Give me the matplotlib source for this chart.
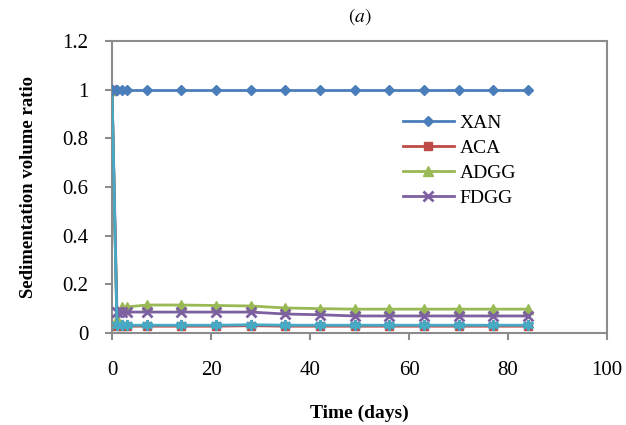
import matplotlib
matplotlib.use("Agg")
import matplotlib.pyplot as plt

days = [0, 1, 2, 3, 7, 14, 21, 28, 35, 42, 49, 56, 63, 70, 77, 84]
xan = [1.0] * 16
aca = [1.0, 0.028, 0.028, 0.028, 0.028, 0.028, 0.028, 0.03, 0.028, 0.028, 0.028, 0.028, 0.028, 0.028, 0.028, 0.028]
adgg = [1.0, 0.057, 0.105, 0.107, 0.115, 0.115, 0.113, 0.111, 0.103, 0.1, 0.098, 0.098, 0.098, 0.098, 0.098, 0.098]
fdgg = [1.0, 0.086, 0.086, 0.086, 0.086, 0.086, 0.086, 0.086, 0.078, 0.075, 0.07, 0.07, 0.07, 0.07, 0.07, 0.07]
extra = [1.0, 0.032, 0.032, 0.032, 0.032, 0.032, 0.032, 0.034, 0.032, 0.032, 0.032, 0.032, 0.032, 0.032, 0.032, 0.032]

plt.rcParams['font.family'] = ['Liberation Serif', 'DejaVu Serif']
plt.rcParams['mathtext.fontset'] = 'stix'

fig = plt.figure(figsize=(6.26, 4.25), dpi=100)
ax = fig.add_axes([112/626, 1-333/425, (607-112)/626, (333-41)/425])

ax.plot(days, xan, color='#4A7EBB', marker='D', ms=5.5, lw=2, label='XAN', zorder=5)
ax.plot(days, aca, color='#BE4B48', marker='s', ms=6, lw=2, label='ACA', zorder=3)
ax.plot(days, adgg, color='#98B954', marker='^', ms=7, lw=2, label='ADGG', zorder=3)
ax.plot(days, fdgg, color='#7D60A0', marker='x', ms=7, mew=2, lw=2, label='FDGG', zorder=3)
ax.plot(days, extra, color='#46AAC5', marker=(6, 2, 0), ms=8, mew=2, lw=2, zorder=4)

ax.set_xlim(0, 100)
ax.set_ylim(0, 1.2)
ax.set_xticks([0, 20, 40, 60, 80, 100])
ax.set_yticks([0, 0.2, 0.4, 0.6, 0.8, 1.0, 1.2])
ax.set_yticklabels(['0', '0.2', '0.4', '0.6', '0.8', '1', '1.2'])
for s in ax.spines.values():
    s.set_color('#8C8C8C')
    s.set_linewidth(1.5)
ax.tick_params(direction='out', length=5, width=1.5, color='#8C8C8C', labelsize=15)
ax.tick_params(axis='x', pad=15)
ax.tick_params(axis='y', pad=12)

ax.set_xlabel('Time (days)', fontsize=14, fontweight='bold', labelpad=18)
ax.set_ylabel('Sedimentation volume ratio', fontsize=13.5, fontweight='bold', labelpad=18)
ax.set_title('$(a)$', fontsize=14, pad=14)

leg = ax.legend(loc='upper left', bbox_to_anchor=((403-112)/495, (333-114)/292), frameon=False,
                fontsize=14, handlelength=2.6, labelspacing=0.38, handletextpad=0.3,
                borderpad=0, borderaxespad=0)

fig.savefig('out.png', dpi=100)
